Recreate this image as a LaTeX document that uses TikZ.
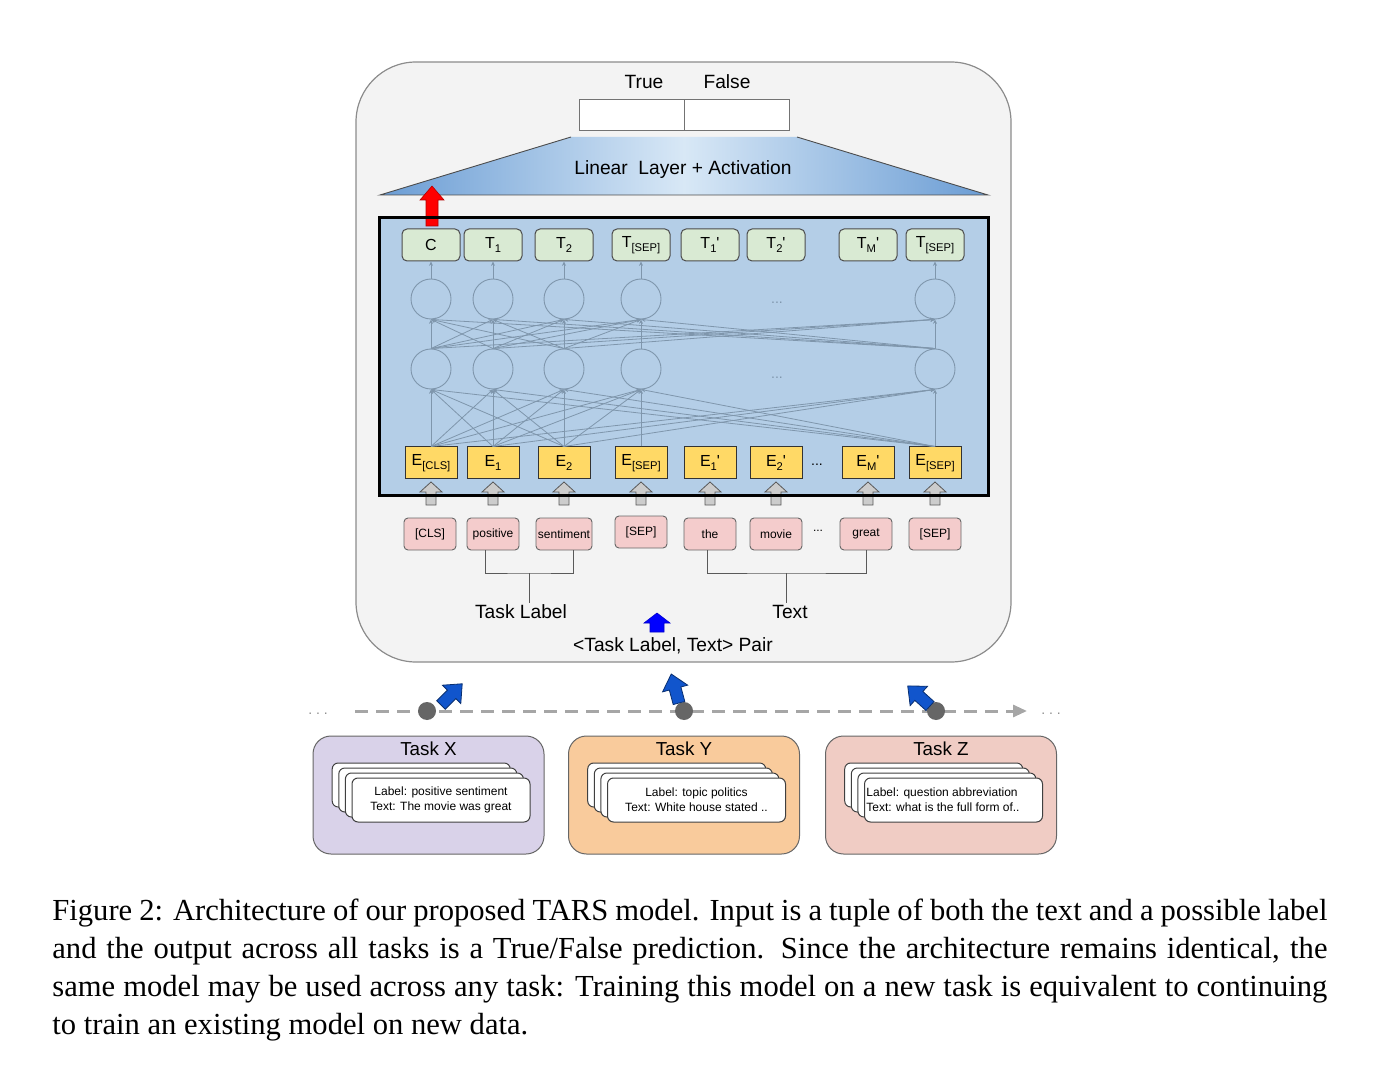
\documentclass[tikz,border=0pt]{standalone}
\usepackage{fontspec}
\setmainfont{Liberation Sans}
\newfontfamily\capfont{Liberation Serif}
\usepackage{tikz}
\usetikzlibrary{arrows.meta,positioning,calc}
\definecolor{panelbg}{HTML}{F3F3F3}
\definecolor{panelrule}{HTML}{8C8C8C}
\definecolor{netbg}{HTML}{B4CEE7}
\definecolor{wire}{HTML}{7F96AC}
\definecolor{outgreen}{HTML}{D9EAD3}
\definecolor{embyellow}{HTML}{FFD966}
\definecolor{tokpink}{HTML}{F4CCCC}
\definecolor{taskx}{HTML}{D9D2E9}
\definecolor{tasky}{HTML}{F9CB9C}
\definecolor{taskz}{HTML}{F0CCC4}
\definecolor{pushblue}{HTML}{1155CC}
\definecolor{linedge}{HTML}{6A9CD4}
\definecolor{lincenter}{HTML}{D8E8F6}
\newcommand{\lsub}[1]{\raisebox{-0.55ex}{\fontsize{5.6}{6}\selectfont #1}}
\tikzset{
  panel/.style={draw=panelrule,line width=0.6pt,rounded corners=30pt,fill=panelbg,
    minimum width=327.5pt,minimum height=300pt,inner sep=0pt},
  outcell/.style={draw=black!55,line width=0.5pt,fill=white,minimum width=52.5pt,
    minimum height=15.5pt,inner sep=0pt},
  headrule/.style={draw=black!70,line width=0.45pt},
  netfill/.style={fill=netbg,minimum width=304pt,minimum height=138.5pt,inner sep=0pt},
  netrule/.style={draw=black,line width=1.6pt},
  tbox/.style={draw=black!70,line width=0.5pt,rounded corners=2.5pt,fill=outgreen,
    minimum width=29pt,minimum height=16pt,inner sep=0pt,font=\fontsize{8}{9}\selectfont},
  ebox/.style={draw=black!80,line width=0.5pt,fill=embyellow,
    minimum width=26pt,minimum height=16pt,inner sep=0pt,font=\fontsize{8}{9}\selectfont},
  tok/.style={draw=black!60,line width=0.45pt,rounded corners=2pt,fill=tokpink,
    minimum height=16pt,inner sep=0pt,font=\fontsize{6}{7}\selectfont},
  unit/.style={circle,draw=wire,line width=0.45pt,minimum size=20pt,inner sep=0pt},
  wireto/.style={draw=wire,line width=0.4pt,-{Stealth[length=2.2pt,width=2pt]}},
  ndots/.style={font=\fontsize{7}{8}\selectfont,text=wire,inner sep=0pt},
  dotsrow/.style={font=\fontsize{7}{8}\selectfont,inner sep=0pt},
  brk/.style={draw=black!65,line width=0.5pt},
  lbl/.style={font=\fontsize{9.6}{11}\selectfont,inner sep=1pt},
  % --- task panels at the bottom ---
  taskbox/.style={draw=black!60,line width=0.5pt,rounded corners=9pt,
    minimum width=115.5pt,minimum height=59pt,inner sep=0pt},
  card/.style={draw=black!75,line width=0.5pt,rounded corners=3pt,fill=white,
    minimum width=89pt,minimum height=22pt,inner sep=0pt},
  ctext/.style={font=\fontsize{6}{7.5}\selectfont,align=center,inner sep=0pt},
  timeline/.style={draw=black!35,line width=1.5pt,dash pattern=on 6.5pt off 4pt,
    -{Triangle[length=7pt,width=6pt]}},
  tdot/.style={circle,fill=black!60,minimum size=9pt,inner sep=0pt},
  figcap/.style={font=\capfont\fontsize{15.3}{19}\selectfont,text width=637.5pt,
    align=justify,inner sep=0pt},
  % --- block arrows ---
  redarrow/.style={fill=red,draw=red!70!black,line width=0.3pt},
  grayarrow/.style={fill=black!20,draw=black!65,line width=0.4pt},
  pusharrow/.style={fill=pushblue,draw=pushblue!55!black,line width=0.4pt},
  pairarrow/.style={fill=blue,draw=blue!80!black,line width=0.3pt},
  redup/.pic={\path[pic actions] (-6,0) -- (-6,-26) -- (-12,-26) -- (0,-40)
    -- (12,-26) -- (6,-26) -- (6,0) -- cycle;},
  grayup/.pic={\path[pic actions] (-5,0) -- (-5,-13) -- (-11,-13) -- (0,-23)
    -- (11,-13) -- (5,-13) -- (5,0) -- cycle;},
  pushup/.pic={\path[pic actions] (-6,0) -- (-6,-15) -- (-13,-15) -- (0,-30)
    -- (13,-15) -- (6,-15) -- (6,0) -- cycle;},
  pairup/.pic={\path[pic actions] (-7,0) -- (-7,-9) -- (-13,-9) -- (0,-19)
    -- (13,-9) -- (7,-9) -- (7,0) -- cycle;},
}
\begin{document}
\begin{tikzpicture}[x=0.5pt,y=-0.5pt]
  \useasboundingbox (0,0) rectangle (1392,1069);
  \node[panel] (frame) at (683.5,362) {};

  % classifier head
  \shade[left color=linedge,right color=linedge,middle color=lincenter]
    (380,195) -- (571,137) -- (797,137) -- (988,195) -- cycle;
  \draw[headrule] (571,137) -- (380,195) -- (988,195) -- (797,137);
  \node[lbl] (lin) at (683,170) {Linear\ \ Layer + Activation};
  \node[outcell] (ptrue) at (631.5,115.5) {};
  \node[outcell] (pfalse) at (736.5,115.5) {};
  \node[lbl] (ltrue) at (644,82) {True};
  \node[lbl] (lfalse) at (727,82) {False};

  % encoder
  \node[netfill] (net) at (684,356.5) {};
  \foreach \x/\lab [count=\i] in {431/C,493/{T\lsub{1}},564/{T\lsub{2}},
      641/{T\lsub{[SEP]}},710/{T\lsub{1}\textquotesingle},
      776/{T\lsub{2}\textquotesingle},868/{T\lsub{M}\textquotesingle},
      935/{T\lsub{[SEP]}}}
    \node[tbox] (o\i) at (\x,245) {\lab};
  \foreach \x/\lab [count=\i] in {431/{E\lsub{[CLS]}},493/{E\lsub{1}},
      564/{E\lsub{2}},641/{E\lsub{[SEP]}},710/{E\lsub{1}\textquotesingle},
      776/{E\lsub{2}\textquotesingle},868/{E\lsub{M}\textquotesingle},
      935/{E\lsub{[SEP]}}}
    \node[ebox] (e\i) at (\x,463) {\lab};
  \foreach \i/\x in {1/431,2/493,3/564,4/641,8/935}{
    \node[unit] (a\i) at (\x,369) {};
    \node[unit] (b\i) at (\x,299) {};
  }
  \node[ndots] (adots) at (777,378) {...};
  \node[ndots] (bdots) at (777,303) {...};
  \node[dotsrow] (edots) at (817,465) {...};
  \foreach \s in {1,2,3,8}
    \foreach \t in {1,2,3,4,8}{
      \draw[wireto] (e\s.north) -- (a\t.south);
      \draw[wireto] (a\s.north) -- (b\t.south);
    }
  \draw[wireto] (e4.north) -- (a4.south);
  \draw[wireto] (a4.north) -- (b4.south);
  \foreach \i in {1,2,3,4,8}
    \draw[wireto] (b\i.north) -- (o\i.south);
  \pic[redarrow] at (432,226) {redup};
  \foreach \x in {431,493,564,641,710,776,868,935}
    \pic[grayarrow] at (\x,505) {grayup};
  \draw[netrule] (net.north west) rectangle (net.south east);

  % input tokens
  \foreach \x/\y/\lab/\w [count=\i] in {430/534/[CLS]/26,493/534/positive/26,
      564/534/sentiment/28,641/532/[SEP]/26,710/534/the/26,776/534/movie/26,
      866/534/great/26,935/534/[SEP]/26}
    \node[tok,minimum width=\w pt] (w\i) at (\x,\y) {\lab};
  \node[dotsrow,font=\fontsize{6}{7}\selectfont] (wdots) at (818,531) {...};
  \coordinate (lbar) at (529,573);
  \coordinate (tbar) at (786,573);
  \draw[brk] ([xshift=-4pt]w2.south) |- (lbar) -| ([xshift=4.5pt]w3.south);
  \draw[brk] ([xshift=-1.5pt]w5.south) |- (tbar) -| (w7.south);
  \node[lbl] (lbltask) at (521,612) {Task Label};
  \node[lbl] (lbltext) at (790,612) {Text};
  \draw[brk] (lbar) -- (lbltask.north -| lbar);
  \draw[brk] (tbar) -- (lbltext.north -| tbar);
  \pic[pairarrow] at (657,632) {pairup};
  \node[lbl] (lblpair) at (673,646) {<Task Label, Text> Pair};

  % stream of tasks
  \node[dotsrow,text=black!45,anchor=base] (dl) at (318,714) {.\ .\ .};
  \node[dotsrow,text=black!45,anchor=base] (dr) at (1051,714) {.\ .\ .};
  \coordinate (tl) at (355,711);
  \coordinate (tr) at (1027,711);
  \draw[timeline] (tl) -- (tr);
  \node[tdot] (t1) at (427,711) {};
  \node[tdot] (t2) at (684,711) {};
  \node[tdot] (t3) at (936,711) {};
  \pic[pusharrow,rotate=-45] at (441,705) {pushup};
  \pic[pusharrow,rotate=15] at (679,703) {pushup};
  \pic[pusharrow,rotate=48] at (930,706) {pushup};

  \foreach \n/\cx/\col in {X/428.5/taskx,Y/684/tasky,Z/941/taskz}{
    \node[taskbox,fill=\col] (task\n) at (\cx,795) {};
    \node[lbl,font=\fontsize{9.4}{11}\selectfont,below=2pt of task\n.north] (title\n) {Task \n};
    \foreach \j in {3,2,1}
      \node[card] (card\n\j) at (\cx+12.5-6.6*\j,800-5*\j) {};
    \node[card] (card\n0) at (\cx+12.5,800) {};
  }
  \node[ctext] (txtX) at (cardX0) {Label: positive sentiment\\Text: The movie was great};
  \node[ctext] (txtY) at (cardY0) {Label: topic politics\\Text: White house stated ..};
  \node[ctext,align=left,anchor=west] (txtZ) at ([xshift=1pt]cardZ0.west)
    {Label: question abbreviation\\Text: what is the full form of..};

  % caption
  \node[figcap,anchor=north west] (cap) at (52,899) {Figure 2: Architecture of our
    proposed TARS model. Input is a tuple of both the text and a possible label\linebreak
    and the output across all tasks is a True/False prediction. Since the architecture
    remains identical, the\linebreak same model may be used across any task: Training
    this model on a new task is equivalent to continuing\linebreak to train an existing
    model on new data.};
\end{tikzpicture}
\end{document}
